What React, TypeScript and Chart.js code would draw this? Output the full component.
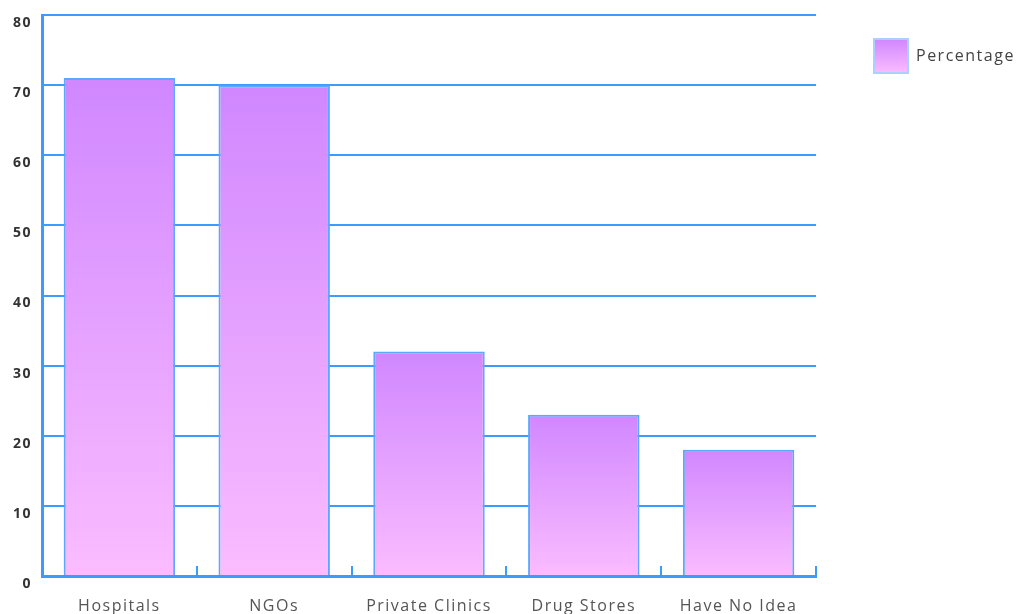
import React, { useEffect, useRef } from "react";
import { Chart, registerables } from "chart.js";

Chart.register(...registerables);

// Where people go for help, by share of respondents
const categories: string[] = ["Hospitals", "NGOs", "Private Clinics", "Drug Stores", "Have No Idea"];
const percentages: number[] = [71, 70, 32, 23, 18];
const seriesLabel = "Percentage";
const yMin = 0;
const yMax = 80;
const yStep = 10;

const BLUE = "#3d9bff";
const BAR_BORDER = "#5aa8ff";
const GRAD_TOP = "#d087ff";
const GRAD_BOTTOM = "#fbbcff";
const FONT_FAMILY = "'Open Sans', 'Noto Sans', sans-serif";
const LETTER_SPACING = "1.5px";

function verticalGradient(ctx: CanvasRenderingContext2D, top: number, bottom: number) {
  const g = ctx.createLinearGradient(0, top, 0, bottom);
  g.addColorStop(0, GRAD_TOP);
  g.addColorStop(1, GRAD_BOTTOM);
  return g;
}

// Loosely tracked lettering for every label on the canvas
const trackedText = {
  id: "trackedText",
  beforeUpdate(chart: any) {
    chart.ctx.letterSpacing = LETTER_SPACING;
  },
  beforeDraw(chart: any) {
    chart.ctx.letterSpacing = LETTER_SPACING;
  },
};

export default function App() {
  const canvasRef = useRef<HTMLCanvasElement | null>(null);

  useEffect(() => {
    if (!canvasRef.current) return;
    const legendBox = 34;
    const legendPad = 24;

    const chart = new Chart(canvasRef.current, {
      type: "bar",
      plugins: [trackedText],
      data: {
        labels: categories,
        datasets: [
          {
            label: seriesLabel,
            data: percentages,
            backgroundColor: (c: any) => {
              const ch = c.chart;
              if (c.type !== "data" || !ch.chartArea || !ch.scales.y) return GRAD_TOP;
              const ys = ch.scales.y;
              const top = ys.getPixelForValue(c.raw as number);
              const bottom = ys.getPixelForValue(0);
              return verticalGradient(ch.ctx, top, bottom);
            },
            borderColor: BAR_BORDER,
            borderWidth: 2,
            barPercentage: 0.72,
            categoryPercentage: 1,
          },
        ],
      },
      options: {
        animation: false,
        responsive: true,
        maintainAspectRatio: false,
        layout: { padding: { top: 15, left: 0, right: 0, bottom: 0 } },
        plugins: {
          tooltip: { enabled: false },
          legend: {
            position: "right",
            align: "start",
            labels: {
              boxWidth: legendBox,
              boxHeight: legendBox,
              padding: legendPad,
              color: "#444",
              font: { family: FONT_FAMILY, size: 16 },
              generateLabels: (ch: any) => {
                const lg = ch.legend;
                const ready = lg && typeof lg.top === "number";
                const top = ready ? lg.top + legendPad : 0;
                return [
                  {
                    text: seriesLabel,
                    fillStyle: ready ? verticalGradient(ch.ctx, top, top + legendBox) : GRAD_TOP,
                    strokeStyle: "#a9d0ff",
                    lineWidth: 2,
                    hidden: false,
                    datasetIndex: 0,
                    fontColor: "#444",
                  },
                ];
              },
            },
          },
        },
        scales: {
          x: {
            type: "category",
            offset: true,
            grid: {
              display: true,
              offset: true,
              drawOnChartArea: false,
              drawTicks: true,
              tickLength: -10,
              color: BLUE,
              lineWidth: 2,
            },
            border: { display: true, color: BLUE, width: 3 },
            ticks: {
              color: "#555",
              padding: 31,
              font: { family: FONT_FAMILY, size: 16 },
            },
            afterFit: (s: any) => {
              s.height = 38;
            },
          },
          y: {
            type: "linear",
            min: yMin,
            max: yMax,
            position: "left",
            grid: { color: BLUE, lineWidth: 2, drawTicks: false },
            border: { display: true, color: BLUE, width: 3 },
            ticks: {
              stepSize: yStep,
              padding: 10,
              labelOffset: 8,
              color: "#333",
              font: { family: FONT_FAMILY, size: 14, weight: "bold" },
            },
            afterFit: (s: any) => {
              s.width = 42;
              s.paddingTop = 0;
              s.paddingBottom = 0;
            },
          },
          // empty right-hand axis that keeps space between the plot and the legend
          gap: {
            type: "linear",
            position: "right",
            display: true,
            grid: { display: false },
            border: { display: false },
            ticks: { display: false },
            afterFit: (s: any) => {
              s.width = 34;
            },
          },
        },
      } as any,
    });

    return () => chart.destroy();
  }, []);

  return (
    <div style={{ position: "fixed", left: 0, top: 0, width: 1020, height: 614, background: "#fff" }}>
      <canvas ref={canvasRef} />
    </div>
  );
}
